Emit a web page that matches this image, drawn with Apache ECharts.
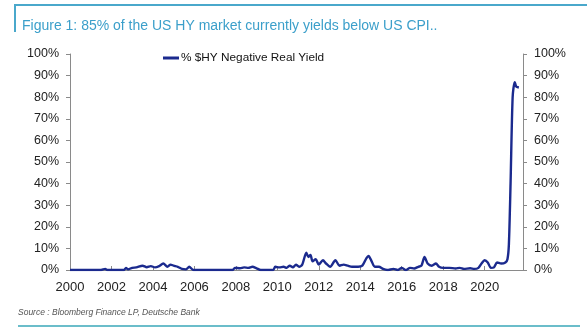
<!DOCTYPE html>
<html><head><meta charset="utf-8">
<script src="https://cdn.jsdelivr.net/npm/echarts@6/dist/echarts.min.js"></script>
<style>html,body{margin:0;padding:0;background:#fff}#c{width:587px;height:335px}</style>
</head><body><div id="c"></div>
<script>
const titleText = 'Figure 1: 85% of the US HY market currently yields below US CPI..';
const seriesName = '% $HY Negative Real Yield';
const sourceText = 'Source : Bloomberg Finance LP, Deutsche Bank';
const xTickYears = [2000, 2002, 2004, 2006, 2008, 2010, 2012, 2014, 2016, 2018, 2020];
const yTicks = [0,10,20,30,40,50,60,70,80,90,100];
const years = [2000.0,2000.5,2001.0,2001.5,2001.7,2001.8,2002.3,2002.6,2002.7,2002.8,2003.0,2003.2,2003.5,2003.7,2003.9,2004.1,2004.3,2004.5,2004.7,2004.85,2005.0,2005.2,2005.4,2005.6,2005.75,2005.95,2006.5,2007.0,2007.5,2007.85,2007.95,2008.2,2008.4,2008.6,2008.8,2009.0,2009.2,2009.5,2009.8,2009.9,2010.1,2010.3,2010.45,2010.6,2010.75,2010.9,2011.05,2011.2,2011.4,2011.5,2011.6,2011.7,2011.85,2012.0,2012.2,2012.35,2012.55,2012.8,2013.0,2013.2,2013.4,2013.6,2013.9,2014.1,2014.3,2014.4,2014.55,2014.7,2014.9,2015.1,2015.3,2015.6,2015.8,2016.0,2016.2,2016.4,2016.6,2016.8,2016.95,2017.1,2017.25,2017.45,2017.65,2017.8,2018.0,2018.3,2018.6,2018.8,2019.0,2019.3,2019.5,2019.7,2019.85,2020.0,2020.15,2020.3,2020.45,2020.6,2020.8,2021.0,2021.1,2021.17,2021.25,2021.35,2021.45,2021.52,2021.65];
const values = [0,0,0,0,0.5,0,0,0,1,0.3,1,1.2,2,1.3,1.8,1.2,1.8,3,1.5,2.5,2,1.5,0.5,0.3,1.5,0,0,0,0,0,1,0.8,1.2,1.0,1.5,0.8,0,0,0,1.5,1.2,1.5,1.0,2.0,1.2,2.5,1.5,2.5,8,6,7,4,5,2.5,4.5,3,1.5,4.5,2,2.5,2,1.5,1.5,2,5.5,6.5,4,1.5,1.5,0.5,0,0.5,0,1,0,1,0.7,1.5,2,6,3,2,3,1.5,1,1,0.7,1,0.5,0.8,0.5,1,3,4.5,3.5,1,1.2,3.5,3,3.5,5,12,40,80,87,85,84.5];

const chart = echarts.init(document.getElementById('c'));
const font = 'Liberation Sans, Arial, sans-serif';
const axisGray = '#8a8a8a';
const yAxisBase = {
  type: 'value', min: 0, max: 100, interval: 10,
  axisLine: {show: true, lineStyle: {color: axisGray, width: 1}},
  axisTick: {show: true, length: 4, lineStyle: {color: axisGray}},
  splitLine: {show: false},
  axisLabel: {formatter: v => v + '%', color: '#222', fontSize: 12.5, fontFamily: font, margin: 11}
};
chart.setOption({
  animation: false,
  backgroundColor: '#fff',
  title: {
    text: titleText, left: 17, top: 14,
    textStyle: {color: '#3b9fca', fontSize: 14, fontWeight: 'normal', fontFamily: font}
  },
  legend: {
    top: 47, left: 158, itemWidth: 16, itemHeight: 3, itemGap: 4,
    icon: 'rect',
    textStyle: {color: '#111', fontSize: 11.8, fontFamily: font, padding: [0,0,0,-3]},
    data: [seriesName]
  },
  grid: {left: 70, right: 64, top: 54, bottom: 65},
  xAxis: {
    type: 'value', min: 2000, max: 2021.85, interval: 2,
    axisLine: {show: true, onZero: false, lineStyle: {color: axisGray}},
    axisTick: {show: true, length: 4, inside: true, lineStyle: {color: axisGray}},
    splitLine: {show: false},
    axisLabel: {
      color: '#222', fontSize: 13, fontFamily: font, margin: 11, showMaxLabel: false,
      formatter: v => xTickYears.includes(Math.round(v)) ? String(Math.round(v)) : ''
    }
  },
  yAxis: [
    Object.assign({}, yAxisBase, {position: 'left'}),
    Object.assign({}, yAxisBase, {position: 'right'})
  ],
  series: [{
    name: seriesName, type: 'line', yAxisIndex: 0,
    data: years.map((y, i) => [y, values[i]]),
    showSymbol: false, smooth: 0.25,
    lineStyle: {color: '#1b2a8e', width: 2.4},
    itemStyle: {color: '#1b2a8e'}
  }],
  graphic: [
    {type: 'line', shape: {x1: 15, y1: 5, x2: 587, y2: 5}, style: {stroke: '#4aa8cb', lineWidth: 2}},
    {type: 'line', shape: {x1: 15, y1: 4, x2: 15, y2: 32}, style: {stroke: '#4aa8cb', lineWidth: 2}},
    {type: 'line', shape: {x1: 18, y1: 326, x2: 580, y2: 326}, style: {stroke: '#3aa7b8', lineWidth: 1.5}},
    {type: 'text', left: 18, top: 308, style: {text: sourceText, fill: '#555', font: 'italic 8.5px ' + font}}
  ]
});
</script></body></html>
